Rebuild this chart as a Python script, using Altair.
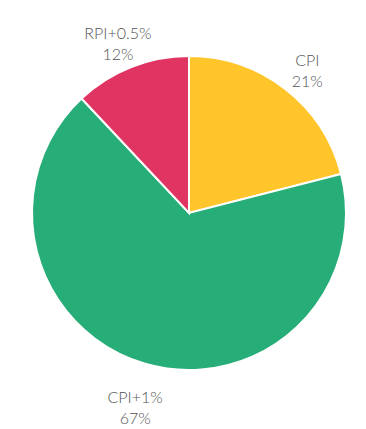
import altair as alt
import pandas as pd

categories = ["CPI", "CPI+1%", "RPI+0.5%"]
shares = [21, 67, 12]
colors = ["#FFC52A", "#27AD77", "#E03462"]
order = [1, 2, 3]

df = pd.DataFrame({
    "cat": categories,
    "share": shares,
    "ord": order,
    "label": [[c, f"{s}%"] for c, s in zip(categories, shares)],
})

cx, cy = 181, 205

base = alt.Chart(df).encode(
    theta=alt.Theta("share:Q", stack=True),
    order=alt.Order("ord:Q"),
    color=alt.Color("cat:N", scale=alt.Scale(domain=categories, range=colors), legend=None),
)

pie = base.mark_arc(outerRadius=157, stroke="white", strokeWidth=2).encode(
    x=alt.value(cx), y=alt.value(cy)
)

text = base.mark_text(
    radius=193, font="Lato", fontSize=16, fontWeight=300, color="#555555",
    align="center", baseline="middle", lineHeight=21,
).encode(
    x=alt.value(cx), y=alt.value(cy),
    text="label",
    color=alt.value("#555555"),
)

chart = alt.layer(pie, text).properties(
    width=350, height=413, padding=0
).configure_view(stroke=None)

chart.save("out.html", embed_options={"renderer": "svg", "actions": False})
